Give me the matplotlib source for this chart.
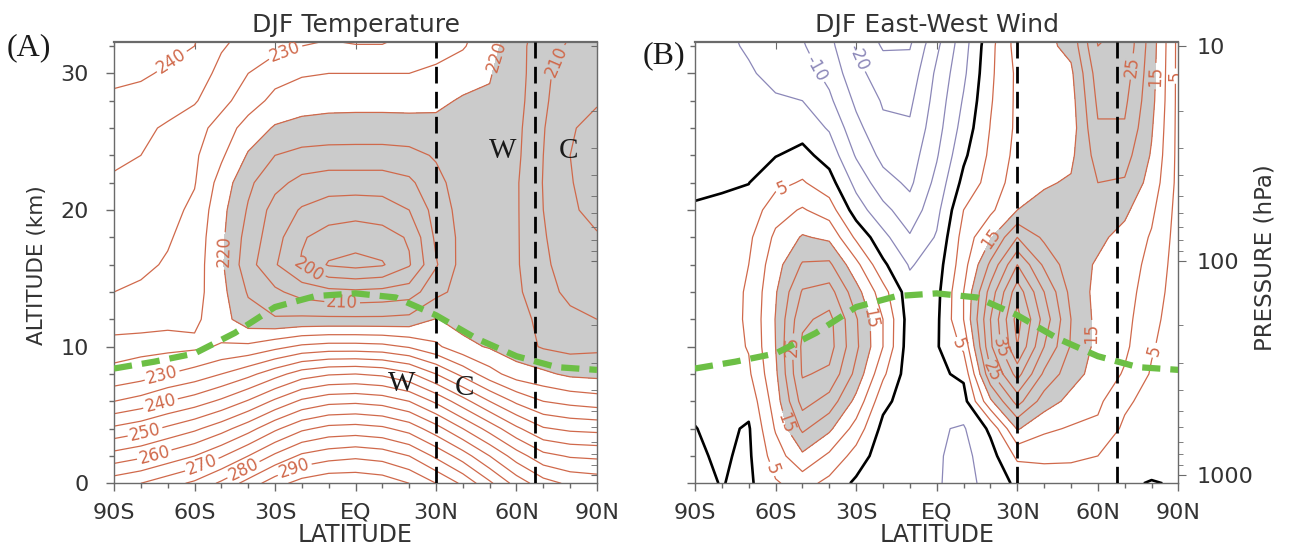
import numpy as np
import matplotlib.pyplot as plt
from matplotlib.ticker import MultipleLocator, FixedLocator, NullFormatter, LogLocator

# ---- data ----
lat = [-90, -80, -70, -60, -50, -40, -30, -20, -10, 0, 10, 20, 30, 40, 50, 60, 70, 80, 90]
alt_km = [0, 2, 4, 6, 8, 10, 12, 14, 16, 18, 20, 22, 24, 26, 28, 30, 32, 34]

# DJF zonal mean temperature (K), one row per altitude
temp_k = [
    [268, 270, 273, 276, 281, 287, 293, 297, 299, 299, 298, 295, 290, 284, 276, 268, 262, 259, 258],
    [257, 259, 262, 265, 269.5, 275, 281, 286, 288, 289, 288, 285, 279, 272.5, 265, 257.5, 251.5, 249.5, 249],
    [246, 248, 251, 254, 258, 263, 269, 274, 276.5, 277, 276, 273, 267, 260, 253, 246, 240.5, 239, 238.5],
    [235, 237, 240, 242.5, 246, 250.5, 256, 261, 263.5, 264, 263, 260, 254, 247, 240, 234, 230, 228.5, 227.5],
    [226, 227.5, 230, 232, 235, 238.5, 243, 247.5, 249.5, 250, 249, 246, 240, 233.5, 227, 222.5, 221, 219, 218.5],
    [223.5, 223.5, 223.5, 224, 225.5, 226, 228.5, 231, 232, 232, 231.5, 229.5, 226, 221.5, 219.5, 217, 214.5, 213.5, 214],
    [227, 226.5, 226, 226, 222, 217, 215.5, 216, 216, 216, 216, 216.5, 220.3, 218, 218.5, 217, 213.5, 211, 210],
    [230, 229.2, 228, 227, 221.5, 214.5, 211, 208, 206.5, 206, 206.5, 207.5, 213.5, 217, 218.5, 216, 211.5, 209, 208],
    [231.5, 231, 229.5, 227.5, 220.8, 212, 205.5, 199.5, 194.5, 193.5, 194.5, 199.5, 209.5, 217, 218.5, 215.5, 211, 207.5, 206.5],
    [232.5, 232, 230.5, 228, 221, 213, 207, 200.5, 198, 197, 198, 200.5, 211, 216.5, 218.5, 215.5, 210.5, 206.5, 205.3],
    [233.5, 233, 231.5, 229, 221.5, 214.5, 208, 204.5, 202.5, 202, 202.5, 205, 212, 217, 218.7, 215.5, 210, 205.5, 204],
    [234.5, 233.8, 232, 230.3, 223, 216, 211.5, 208.5, 207.5, 207.5, 207.5, 209, 213.5, 217.5, 219, 215.5, 209.8, 205.2, 203.5],
    [235.7, 235, 233, 230.8, 225.8, 219.5, 215, 213.5, 213, 213, 213, 213.5, 215.5, 218.5, 219.3, 216, 210, 205, 203.3],
    [237.3, 236.3, 234.2, 232, 228, 222.8, 219.5, 218.5, 218.2, 218, 218, 218.2, 218.7, 219.2, 219.6, 216.3, 210.3, 205.3, 204],
    [239.2, 238.8, 237.5, 235.5, 231.5, 227.5, 223.5, 222, 221.5, 221.5, 221.5, 221.5, 221, 219.5, 219.5, 216.8, 211, 206, 205.3],
    [241, 240.5, 239.5, 237.8, 233.5, 230, 227, 225.5, 225, 225, 225, 225, 224, 222, 220.3, 217.2, 211.2, 207.3, 207],
    [242.5, 242, 241, 240, 235.5, 233, 231.5, 230, 229.3, 229.8, 229.8, 228.5, 227, 225.5, 221.5, 217.5, 211, 209.7, 208.5],
    [244, 243.5, 242.5, 241.5, 237, 235, 234, 233, 232.5, 233, 233, 231.5, 229.5, 227, 223, 219, 212.5, 210.5, 210],
]

# DJF zonal mean east-west wind (m/s), one column per latitude (alt 0..34 km)
wind_cols = [
    [-1, -0.5, -0.1, 0.8, 1.0, 1.2, 1.3, 1.2, 1.0, 0.6, 0.2, -0.4, -0.9, -1.4, -1.9, -2.3, -2.7, -3],
    [0.15, 0.5, 1.0, 2, 2.5, 2.8, 3, 3, 2.8, 2.0, 0.8, -0.5, -1.5, -2.3, -3, -3.6, -4.2, -4.6],
    [-1, -0.8, -0.5, 1.5, 4.2, 5.3, 5.6, 5.5, 5.0, 4.0, 1.8, -0.1, -1.2, -2.5, -3.6, -4.6, -5.4, -6],
    [4.5, 7.5, 10.5, 12.5, 14, 15, 15.2, 14.5, 13, 11, 8, 3.5, -0.2, -2.5, -4.6, -6, -7.5, -8.5],
    [7, 14, 21, 27, 30.5, 31, 29, 25.5, 20.5, 15.5, 10.5, 5.5, 1.5, -2, -5, -7.5, -9.5, -11],
    [3.5, 9, 16, 23, 29, 32, 31.5, 27, 21, 14, 7.5, 2, -2, -5.5, -9, -11.5, -13.5, -15],
    [-1, 3, 8, 13.5, 18.5, 21, 20.5, 17, 11.5, 4, -2.5, -6.5, -10.5, -13.5, -16, -18.5, -20.5, -23],
    [-3.5, -3, -1.5, 1.5, 6, 10, 10, 7, 1, -3.5, -8.5, -13, -16.5, -19, -20.5, -22.5, -25.5, -28],
    [-4, -4.5, -3.5, -3, -3, -3, -2.5, -3, -5.5, -9.5, -13, -16, -17.5, -19.3, -21, -23, -25.3, -28],
    [-4.5, -4.5, -4.5, -2, -1, -0.5, -1, -1.5, -2.5, -4.5, -6.5, -8.5, -10.5, -12, -13, -14, -16, -19],
    [-7, -6.5, -5.5, -2, 1, 6, 10, 10, 8, 7, 5, 1.5, -1, -3, -4.5, -6, -7, -8],
    [-3, -2, 1, 14, 24, 29, 30, 27, 21, 14.5, 9, 7, 6, 5.2, 4.5, 4, 3.5, 2],
    [1, 6, 15.5, 27, 37, 45, 47, 43, 35, 25, 15, 12.5, 11.5, 11, 11, 11, 12, 12.5],
    [2.5, 6, 11, 17.5, 24, 30, 33, 30, 24, 19, 16.5, 14.5, 13, 12.5, 12, 12, 13.5, 14],
    [3.5, 5.5, 9.5, 13.5, 17, 19.5, 20, 18.5, 17, 16.5, 16.5, 15.5, 14, 12.5, 13, 14, 16.5, 18],
    [3, 5, 9, 11, 13, 13.5, 13.5, 13.5, 14.5, 16, 18, 20, 22, 24.5, 26, 27.5, 30, 32],
    [0.5, 2.5, 4, 6, 9.5, 11, 11.5, 12, 12.5, 13.5, 16, 19.5, 22, 24.5, 26, 27.5, 29, 30],
    [-0.2, 1.5, 2.5, 3, 4.5, 5.5, 6.5, 7.5, 8.5, 9.5, 11, 13, 14.5, 15.5, 16.5, 17, 17.5, 18],
    [0.3, 0.5, 0.8, 1, 1.5, 2, 2.2, 2.5, 2.7, 3, 3.2, 3.5, 3.5, 3.5, 3.5, 3.5, 3.5, 3.5],
]

# tropopause (green dashed)
trop_lat = [-90, -75, -60, -45, -30, -15, 0, 15, 30, 45, 60, 75, 90]
trop_km = [8.4, 8.9, 9.5, 11.0, 12.9, 13.7, 13.9, 13.6, 12.3, 10.6, 9.3, 8.5, 8.3]
bound_lat = [30, 67]

lat_ticks = [-90, -60, -30, 0, 30, 60, 90]
lat_labels = ['90S', '60S', '30S', 'EQ', '30N', '60N', '90N']

# contour levels: labelled ones and plain ones
temp_lab_lev = [200, 210, 220, 230, 240, 250, 260, 270, 280, 290]
temp_plain_lev = [195, 205, 215, 225, 235, 245, 255, 265, 275, 285, 295]
wind_lab_lev = [5, 15, 25, 35, 45]
wind_plain_lev = [10, 20, 30, 40, 50]
neg_lab_lev = [-30, -20, -10]
neg_plain_lev = [-25, -15, -5]

# label spots (lat, km)
temp_label_pos = [(-67, 30.4), (-25.6, 31.2), (56.5, 31.0), (78.5, 30.5), (-18, 15.3),
                  (-5, 13.1), (-48.6, 17), (-71, 7.0), (-72, 5.3), (-78, 3.4), (-75, 2.1),
                  (-57, 1.2), (-42, 1.1), (-23, 1.2)]
wind_label_pos = [(-56.2, 21.0), (-62, 1.0), (-57.5, 4.3), (-26.4, 12), (-53.5, 10),
                  (7, 10.1), (20.8, 17.8), (21, 8.2), (23.5, 9.9), (54.2, 11),
                  (80, 9.8), (72.8, 30.5), (81.5, 29.8), (89, 29.8)]
neg_label_pos = [(-43.8, 30.5), (-28.3, 31.3)]

# ---- plotting ----
T = np.array(temp_k)
U = np.array(wind_cols).T
X = np.array(lat)
Z = np.array(alt_km)

red = '#d0694b'
blue = '#8b87b8'
gray_fill = '#cbcbcb'
txt = '#333333'
spine_c = '#6a6a6a'

ztop = 32.3
p_bot = 1000 * 10 ** (0.6 / 15.7)
p_top = 1000 * 10 ** (-(ztop - 0.6) / 15.7)

fig = plt.figure(figsize=(12.93, 5.5), dpi=100)
axA = fig.add_axes([0.0882, 0.1213, 0.3735, 0.8024])
axB = fig.add_axes([0.5375, 0.1213, 0.3739, 0.8024])


def style_axes(ax):
    ax.set_xlim(-90, 90)
    ax.set_ylim(0, ztop)
    ax.set_xticks(lat_ticks)
    ax.set_xticklabels(lat_labels)
    ax.xaxis.set_minor_locator(MultipleLocator(10))
    ax.yaxis.set_minor_locator(MultipleLocator(2))
    ax.tick_params(axis='x', which='major', direction='out', length=6, width=1,
                   color=spine_c, labelsize=16, labelcolor=txt, pad=8)
    ax.tick_params(axis='x', which='minor', direction='out', length=3.5, width=1, color=spine_c)
    ax.tick_params(axis='y', which='major', direction='out', length=6, width=1,
                   color=spine_c, labelsize=16, labelcolor=txt, pad=12)
    ax.tick_params(axis='y', which='minor', direction='out', length=3.5, width=1, color=spine_c)
    for s in ax.spines.values():
        s.set_color(spine_c)
        s.set_linewidth(1.0)
    ax.spines['top'].set_linewidth(1.6)
    top = ax.secondary_xaxis('top')
    top.set_xticks(lat_ticks)
    top.set_xticklabels([])
    top.tick_params(direction='in', length=5, color=spine_c)
    top.spines['top'].set_visible(False)
    ax.set_xlabel('LATITUDE', fontsize=17, color=txt, labelpad=0)
    for x in bound_lat:
        ax.plot([x, x], [0, ztop], color='k', lw=2, dashes=(6, 3), zorder=6)
    ax.plot(trop_lat, trop_km, color='#6cbf45', lw=4.5, dashes=(2.9, 1.6),
            solid_capstyle='butt', zorder=7)


def pressure_axis(ax, labels):
    ax2 = ax.twinx()
    ax2.set_yscale('log')
    ax2.set_ylim(p_bot, p_top)
    ax2.yaxis.set_major_locator(FixedLocator([10, 100, 1000]))
    ax2.yaxis.set_minor_locator(LogLocator(base=10, subs=range(2, 10)))
    ax2.yaxis.set_minor_formatter(NullFormatter())
    if labels:
        ax2.set_yticklabels(['10', '100', '1000'])
        ax2.tick_params(axis='y', which='major', direction='out', length=6, color=spine_c,
                        labelsize=16, labelcolor=txt, pad=7)
        ax2.tick_params(axis='y', which='minor', direction='out', length=3.5, color=spine_c)
    else:
        ax2.set_yticklabels([])
        ax2.tick_params(axis='y', which='both', direction='in', length=4, color=spine_c)
    for s in ax2.spines.values():
        s.set_visible(False)
    return ax2


# panel A: temperature
axA.contourf(X, Z, T, levels=[150, 220], colors=[gray_fill])
axA.contour(X, Z, T, levels=temp_plain_lev, colors=red, linewidths=0.9)
csT = axA.contour(X, Z, T, levels=temp_lab_lev, colors=red, linewidths=0.9)
axA.clabel(csT, fmt='%d', fontsize=12, inline=True, inline_spacing=2,
           manual=temp_label_pos)
style_axes(axA)
axA.set_yticks([0, 10, 20, 30])
axA.set_title('DJF Temperature', fontsize=18, color=txt, pad=7)
pressure_axis(axA, labels=False)
for s, x, y in [('W', 55, 24.3), ('C', 79.5, 24.3), ('W', 17.2, 7.3), ('C', 40.8, 7.0)]:
    axA.text(x, y, s, family='Liberation Serif', fontsize=21, ha='center', va='center',
             color='#1a1a1a', zorder=8)

# panel B: east-west wind
axB.contourf(X, Z, U, levels=[15, 200], colors=[gray_fill])
axB.contour(X, Z, U, levels=wind_plain_lev, colors=red, linewidths=0.9)
csP = axB.contour(X, Z, U, levels=wind_lab_lev, colors=red, linewidths=0.9)
axB.contour(X, Z, U, levels=neg_plain_lev, colors=blue, linewidths=0.9, linestyles='solid')
csN = axB.contour(X, Z, U, levels=neg_lab_lev, colors=blue, linewidths=0.9,
                  linestyles='solid')
axB.contour(X, Z, U, levels=[0], colors='k', linewidths=1.9)
axB.clabel(csP, fmt='%d', fontsize=12, inline=True, inline_spacing=2,
           manual=wind_label_pos)
axB.clabel(csN, fmt='%d', fontsize=12, inline=True, inline_spacing=2,
           manual=neg_label_pos)
style_axes(axB)
axB.set_yticks([0, 10, 20, 30])
axB.set_yticklabels([])
axB.set_title('DJF East-West Wind', fontsize=18, color=txt, pad=7)
pressure_axis(axB, labels=True)

fig.text(0.0286, 0.518, 'ALTITUDE (km)', rotation=90, fontsize=15.5, color=txt,
         ha='center', va='center')
fig.text(0.978, 0.531, 'PRESSURE (hPa)', rotation=90, fontsize=16.5, color=txt,
         ha='center', va='center')
fig.text(0.0224, 0.913, '(A)', family='Liberation Serif', fontsize=23, color='#1a1a1a',
         ha='center', va='center')
fig.text(0.5135, 0.898, '(B)', family='Liberation Serif', fontsize=23, color='#1a1a1a',
         ha='center', va='center')

fig.savefig('out.png', dpi=100)
